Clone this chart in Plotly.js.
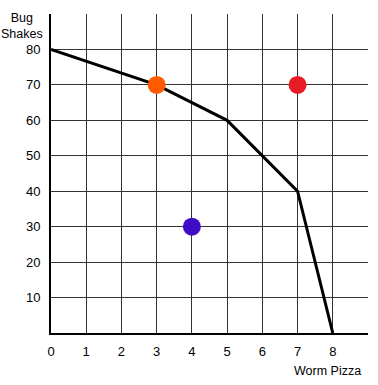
<!DOCTYPE html>
<html>
<head>
<meta charset="utf-8">
<script src="https://cdn.plot.ly/plotly-3.0.1.min.js"></script>
<style>html,body{margin:0;padding:0;background:#fff;}#chart{width:378px;height:385px;}</style>
</head>
<body>
<div id="chart"></div>
<script>
// Frontier (Worm Pizza vs Bug Shakes)
const frontierX = [0, 3, 5, 7, 8];
const frontierY = [80, 70, 60, 40, 0];
// Highlighted points
const pointX = [3, 7, 4];
const pointY = [70, 70, 30];
const pointColors = ['#FF5A00', '#E81C24', '#3E0CC4'];
// Axis ticks
const xTickVals = [0, 1, 2, 3, 4, 5, 6, 7, 8, 9];
const xTickText = ['0', '1', '2', '3', '4', '5', '6', '7', '8', ''];
const yTickVals = [0, 10, 20, 30, 40, 50, 60, 70, 80, 90];
const yTickText = ['', '10', '20', '30', '40', '50', '60', '70', '80', ''];

const font = {family: 'Liberation Sans, Arial, sans-serif', size: 13, color: '#000'};
const tfont = {family: 'Liberation Sans, Arial, sans-serif', size: 12.5, color: '#000'};

const traces = [
  {x: frontierX, y: frontierY, mode: 'lines', line: {color: '#000', width: 3}, hoverinfo: 'skip'},
  {x: pointX, y: pointY, mode: 'markers', marker: {color: pointColors, size: 18, line: {width: 0}}, hoverinfo: 'skip'}
];

const layout = {
  width: 378, height: 385,
  margin: {l: 51, r: 10, t: 14, b: 52},
  paper_bgcolor: '#fff', plot_bgcolor: '#fff',
  showlegend: false,
  font: font,
  xaxis: {
    range: [0, 9], tickvals: xTickVals, ticktext: xTickText,
    showgrid: true, gridcolor: '#333', gridwidth: 1,
    zeroline: false, showline: true, linecolor: '#000', linewidth: 2,
    ticks: '', ticklabelstandoff: 5, tickfont: font, fixedrange: true
  },
  yaxis: {
    range: [0, 90], tickvals: yTickVals, ticktext: yTickText,
    showgrid: true, gridcolor: '#333', gridwidth: 1,
    zeroline: false, showline: true, linecolor: '#000', linewidth: 2,
    ticks: '', ticklabelstandoff: 6, tickfont: font, fixedrange: true
  },
  annotations: [
    {text: 'Bug<br>Shakes', xref: 'paper', yref: 'paper', x: -0.09, y: 1.015, xanchor: 'center', yanchor: 'top',
     showarrow: false, font: tfont, align: 'center'},
    {text: 'Worm Pizza', xref: 'paper', yref: 'paper', x: 0.873, y: -0.09, xanchor: 'center', yanchor: 'top',
     showarrow: false, font: tfont}
  ]
};

Plotly.newPlot('chart', traces, layout, {displayModeBar: false, staticPlot: true});
</script>
</body>
</html>
